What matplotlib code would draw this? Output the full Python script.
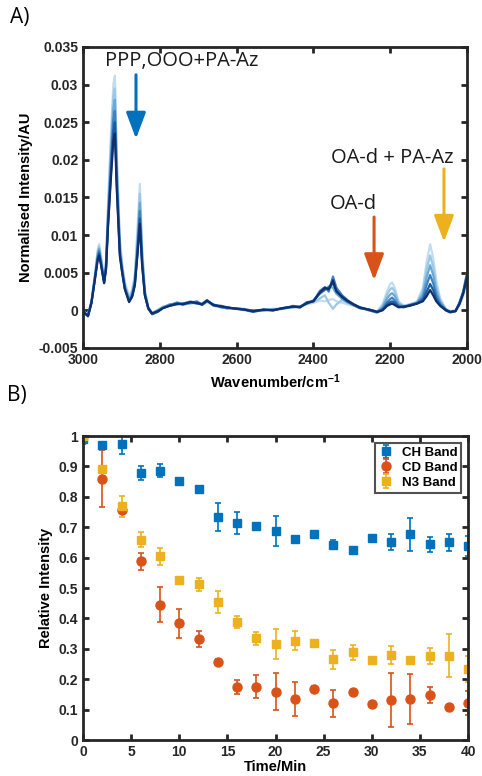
import matplotlib
matplotlib.use("Agg")
import matplotlib.pyplot as plt
from matplotlib.ticker import FuncFormatter

plt.rcParams['font.family'] = ['Liberation Sans', 'DejaVu Sans']
plt.rcParams['mathtext.default'] = 'regular'

# ---- panel A: spectra ----
wavenumber = [3000, 2995, 2987, 2978, 2969, 2962, 2958, 2953, 2945, 2940,
              2935, 2928, 2921, 2917, 2912, 2904, 2898, 2891, 2880, 2872,
              2865, 2858, 2852, 2846, 2839, 2830, 2820, 2805, 2792, 2775,
              2755, 2740, 2720, 2703, 2690, 2677, 2660, 2640, 2625, 2600,
              2580, 2557, 2530, 2505, 2480, 2453, 2435, 2417, 2400, 2383,
              2370, 2360, 2349, 2340, 2325, 2312, 2295, 2279, 2255, 2234,
              2220, 2208, 2200, 2195, 2188, 2178, 2165, 2150, 2130, 2115,
              2105, 2096, 2088, 2080, 2070, 2055, 2044, 2030, 2020, 2010, 2000]

spec_0min = [0.0001, -0.0003, -0.0006, 0.0013, 0.0048, 0.0080, 0.0088, 0.0072, 0.0042, 0.0068,
             0.0140, 0.0225, 0.0300, 0.0312, 0.0210, 0.0095, 0.0062, 0.0038, 0.0019, 0.0027,
             0.0048, 0.0110, 0.0168, 0.0085, 0.0028, 0.0004, -0.0003, 0.0000, 0.0004, 0.0007,
             0.0010, 0.0007, 0.0010, 0.0009, 0.0009, 0.0011, 0.0006, 0.0004, 0.0003, 0.0003,
             0.0000, -0.0002, 0.0000, 0.0001, 0.0002, 0.0004, 0.0005, 0.0008, 0.0010, 0.0013,
             0.0012, 0.0014, 0.0015, 0.0012, 0.0010, 0.0008, 0.0006, 0.0003, 0.0001, -0.0001,
             0.0008, 0.0026, 0.0035, 0.0037, 0.0030, 0.0012, 0.0006, 0.0007, 0.0012, 0.0030,
             0.0065, 0.0088, 0.0070, 0.0040, 0.0016, 0.0002, -0.0001, 0.0000, 0.0006, 0.0018, 0.0038]

spec_8min = [0.0002, -0.0003, -0.0006, 0.0012, 0.0046, 0.0077, 0.0085, 0.0069, 0.0040, 0.0064,
             0.0132, 0.0212, 0.0284, 0.0295, 0.0198, 0.0089, 0.0059, 0.0035, 0.0017, 0.0025,
             0.0044, 0.0100, 0.0155, 0.0078, 0.0026, 0.0004, -0.0004, 0.0001, 0.0005, 0.0006,
             0.0011, 0.0008, 0.0009, 0.0011, 0.0008, 0.0012, 0.0007, 0.0005, 0.0002, 0.0003,
             0.0001, -0.0001, 0.0000, 0.0002, 0.0002, 0.0005, 0.0004, 0.0009, 0.0011, 0.0016,
             0.0020, 0.0010, 0.0002, 0.0008, 0.0014, 0.0010, 0.0007, 0.0004, 0.0000, -0.0002,
             0.0006, 0.0021, 0.0028, 0.0030, 0.0025, 0.0010, 0.0006, 0.0008, 0.0011, 0.0026,
             0.0055, 0.0073, 0.0058, 0.0033, 0.0014, 0.0001, -0.0002, 0.0000, 0.0008, 0.0022, 0.0043]

spec_16min = [0.0001, -0.0004, -0.0007, 0.0011, 0.0044, 0.0073, 0.0082, 0.0066, 0.0039, 0.0061,
              0.0124, 0.0198, 0.0268, 0.0280, 0.0185, 0.0083, 0.0056, 0.0032, 0.0015, 0.0022,
              0.0040, 0.0090, 0.0143, 0.0071, 0.0024, 0.0003, -0.0004, 0.0000, 0.0004, 0.0008,
              0.0009, 0.0009, 0.0012, 0.0010, 0.0009, 0.0014, 0.0006, 0.0005, 0.0004, 0.0002,
              0.0002, -0.0001, 0.0001, 0.0001, 0.0003, 0.0004, 0.0005, 0.0010, 0.0013, 0.0022,
              0.0027, 0.0032, 0.0030, 0.0022, 0.0015, 0.0011, 0.0007, 0.0003, 0.0001, -0.0002,
              0.0004, 0.0016, 0.0021, 0.0023, 0.0019, 0.0008, 0.0005, 0.0007, 0.0010, 0.0021,
              0.0044, 0.0060, 0.0047, 0.0026, 0.0011, 0.0001, -0.0002, -0.0001, 0.0009, 0.0024, 0.0047]

spec_24min = [0.0002, -0.0004, -0.0007, 0.0010, 0.0043, 0.0070, 0.0079, 0.0064, 0.0038, 0.0058,
              0.0118, 0.0186, 0.0253, 0.0265, 0.0175, 0.0078, 0.0053, 0.0030, 0.0013, 0.0020,
              0.0037, 0.0083, 0.0132, 0.0066, 0.0022, 0.0003, -0.0005, -0.0001, 0.0003, 0.0007,
              0.0010, 0.0008, 0.0010, 0.0012, 0.0007, 0.0012, 0.0008, 0.0004, 0.0003, 0.0003,
              0.0001, 0.0000, 0.0000, 0.0001, 0.0002, 0.0006, 0.0004, 0.0011, 0.0012, 0.0026,
              0.0031, 0.0025, 0.0045, 0.0030, 0.0020, 0.0014, 0.0008, 0.0004, 0.0000, -0.0003,
              0.0002, 0.0011, 0.0015, 0.0017, 0.0013, 0.0006, 0.0005, 0.0006, 0.0010, 0.0017,
              0.0034, 0.0047, 0.0036, 0.0020, 0.0009, 0.0000, -0.0003, -0.0001, 0.0010, 0.0025, 0.0050]

spec_32min = [0.0001, -0.0004, -0.0008, 0.0010, 0.0042, 0.0068, 0.0076, 0.0062, 0.0037, 0.0056,
              0.0113, 0.0176, 0.0238, 0.0250, 0.0167, 0.0075, 0.0051, 0.0029, 0.0012, 0.0019,
              0.0035, 0.0078, 0.0122, 0.0062, 0.0021, 0.0002, -0.0005, -0.0002, 0.0003, 0.0006,
              0.0008, 0.0009, 0.0011, 0.0009, 0.0008, 0.0013, 0.0007, 0.0006, 0.0004, 0.0002,
              0.0001, -0.0002, 0.0001, 0.0000, 0.0003, 0.0005, 0.0005, 0.0009, 0.0013, 0.0023,
              0.0028, 0.0030, 0.0036, 0.0026, 0.0017, 0.0012, 0.0007, 0.0003, 0.0001, -0.0002,
              0.0001, 0.0008, 0.0011, 0.0012, 0.0010, 0.0005, 0.0004, 0.0007, 0.0009, 0.0014,
              0.0025, 0.0035, 0.0027, 0.0015, 0.0007, 0.0001, -0.0002, -0.0001, 0.0009, 0.0023, 0.0046]

spec_40min = [0.0002, -0.0004, -0.0007, 0.0010, 0.0041, 0.0066, 0.0073, 0.0060, 0.0036, 0.0055,
              0.0110, 0.0170, 0.0225, 0.0235, 0.0160, 0.0072, 0.0050, 0.0028, 0.0011, 0.0018,
              0.0033, 0.0075, 0.0115, 0.0060, 0.0020, 0.0003, -0.0004, -0.0001, 0.0003, 0.0006,
              0.0009, 0.0008, 0.0011, 0.0010, 0.0008, 0.0013, 0.0007, 0.0005, 0.0004, 0.0002,
              0.0001, -0.0001, 0.0001, 0.0000, 0.0003, 0.0005, 0.0004, 0.0010, 0.0012, 0.0024,
              0.0030, 0.0028, 0.0040, 0.0025, 0.0018, 0.0013, 0.0008, 0.0004, 0.0001, -0.0002,
              0.0000, 0.0006, 0.0008, 0.0009, 0.0007, 0.0004, 0.0005, 0.0006, 0.0009, 0.0012,
              0.0019, 0.0027, 0.0020, 0.0012, 0.0006, 0.0000, -0.0002, -0.0001, 0.0008, 0.0022, 0.0044]

spectra = [spec_0min, spec_8min, spec_16min, spec_24min, spec_32min, spec_40min]
spec_colors = ['#c3ddf0', '#9cc8e6', '#6aa8d6', '#3d82c0', '#1f5a9e', '#0f2f6e']

# ---- panel B: band intensities ----
time_min = [0, 2, 4, 6, 8, 10, 12, 14, 16, 18, 20, 22, 24, 26, 28, 30, 32, 34, 36, 38, 40]

ch_band = [0.99, 0.970, 0.974, 0.877, 0.886, 0.853, 0.825, 0.734, 0.714, 0.703, 0.687,
           0.662, 0.676, 0.643, 0.624, 0.665, 0.652, 0.676, 0.644, 0.651, 0.638]
ch_err = [0.015, 0.008, 0.033, 0.023, 0.022, 0.005, 0.005, 0.045, 0.037, 0.004, 0.049,
          0.005, 0.006, 0.014, 0.010, 0.006, 0.026, 0.055, 0.024, 0.028, 0.033]

cd_band = [1.0, 0.860, 0.758, 0.588, 0.445, 0.384, 0.332, 0.258, 0.175, 0.175, 0.159,
           0.135, 0.167, 0.121, 0.157, 0.117, 0.132, 0.135, 0.148, 0.110, 0.121]
cd_err = [0.005, 0.094, 0.010, 0.028, 0.058, 0.047, 0.026, 0.010, 0.024, 0.038, 0.061,
          0.056, 0.010, 0.045, 0.005, 0.008, 0.089, 0.083, 0.025, 0.004, 0.040]

n3_band = [1.0, 0.890, 0.769, 0.659, 0.604, 0.525, 0.512, 0.454, 0.388, 0.334, 0.315,
           0.327, 0.318, 0.265, 0.288, 0.263, 0.280, 0.263, 0.277, 0.277, 0.234]
n3_err = [0.005, 0.006, 0.035, 0.024, 0.028, 0.010, 0.022, 0.037, 0.021, 0.020, 0.049,
          0.030, 0.010, 0.030, 0.026, 0.010, 0.030, 0.005, 0.027, 0.071, 0.042]

blue, red, yellow = '#0072BD', '#D95319', '#EDB120'
spine_col = '#262626'


def style_axes(ax):
    for s in ax.spines.values():
        s.set_linewidth(2)
        s.set_color(spine_col)
    ax.tick_params(direction='in', top=True, right=True, width=2, length=4,
                   labelsize=10, colors=spine_col)
    for lab in ax.get_xticklabels() + ax.get_yticklabels():
        lab.set_fontweight('bold')


fig = plt.figure(figsize=(4.82, 7.76), dpi=100)

# panel A
ax1 = fig.add_axes([83 / 482, 1 - 348 / 776, 384 / 482, 301 / 776])
for spec, col in zip(spectra, spec_colors):
    ax1.plot(wavenumber, spec, color=col, lw=1.6)
ax1.set_xlim(3000, 2000)
ax1.set_ylim(-0.005, 0.035)
ax1.set_xticks([3000, 2800, 2600, 2400, 2200, 2000])
ax1.set_yticks([-0.005, 0, 0.005, 0.01, 0.015, 0.02, 0.025, 0.03, 0.035])
ax1.yaxis.set_major_formatter(FuncFormatter(lambda v, p: '%g' % round(v, 4)))
style_axes(ax1)
ax1.set_xlabel('Wavenumber/cm$^{-1}$', fontsize=10.5, fontweight='bold')
ax1.set_ylabel('Normalised Intensity/AU', fontsize=10.5, fontweight='bold')

arrows = [(2862, 0.0313, 0.0228, blue), (2242, 0.0124, 0.0040, red), (2060, 0.0188, 0.0091, yellow)]
for x, y0, y1, col in arrows:
    ax1.annotate('', xy=(x, y1), xytext=(x, y0),
                 arrowprops=dict(arrowstyle='-|>,head_width=0.3,head_length=0.8',
                                 color=col, lw=2.2, shrinkA=0, shrinkB=0, mutation_scale=20))

note_font = dict(family=['Open Sans', 'DejaVu Sans'], fontsize=14.5, color='#1a1a1a')
ax1.text(2943, 0.0331, 'PPP,OOO+PA-Az', ha='left', va='center', **note_font)
ax1.text(2354, 0.0202, 'OA-d + PA-Az', ha='left', va='center', **note_font)
ax1.text(2357, 0.0141, 'OA-d', ha='left', va='center', **note_font)

# panel B
ax2 = fig.add_axes([83 / 482, 1 - 740 / 776, 385 / 482, 304 / 776])
eb = dict(capsize=2.5, elinewidth=1.2, capthick=1.2, linestyle='none')
ax2.errorbar(time_min, ch_band, yerr=ch_err, fmt='s', color=blue, ms=6,
             label='CH Band', **eb)
ax2.errorbar(time_min, cd_band, yerr=cd_err, fmt='o', color=red, ms=6.5,
             label='CD Band', **eb)
ax2.errorbar(time_min, n3_band, yerr=n3_err, fmt='s', color=yellow, ms=6,
             label='N3 Band', **eb)
ax2.set_xlim(0, 40)
ax2.set_ylim(0, 1)
ax2.set_xticks(range(0, 41, 5))
ax2.set_yticks([i / 10 for i in range(11)])
ax2.yaxis.set_major_formatter(FuncFormatter(lambda v, p: '%g' % round(v, 2)))
style_axes(ax2)
ax2.set_xlabel('Time/Min', fontsize=10.5, fontweight='bold', labelpad=1)
ax2.set_ylabel('Relative Intensity', fontsize=10.5, fontweight='bold')
leg = ax2.legend(loc='upper right', fontsize=9.5, frameon=True, fancybox=False,
                 borderaxespad=0.5, handlelength=1.0, handletextpad=0.7,
                 borderpad=0.3, labelspacing=0.2)
leg.get_frame().set_edgecolor(spine_col)
leg.get_frame().set_linewidth(1.5)
for t in leg.get_texts():
    t.set_fontweight('bold')

fig.text(10 / 482, 1 - 18 / 776, 'A)', fontsize=15, va='center', ha='left',
         family=['Open Sans', 'DejaVu Sans'])
fig.text(7 / 482, 1 - 396 / 776, 'B)', fontsize=15, va='center', ha='left',
         family=['Open Sans', 'DejaVu Sans'])

fig.savefig('out.png', dpi=100)
